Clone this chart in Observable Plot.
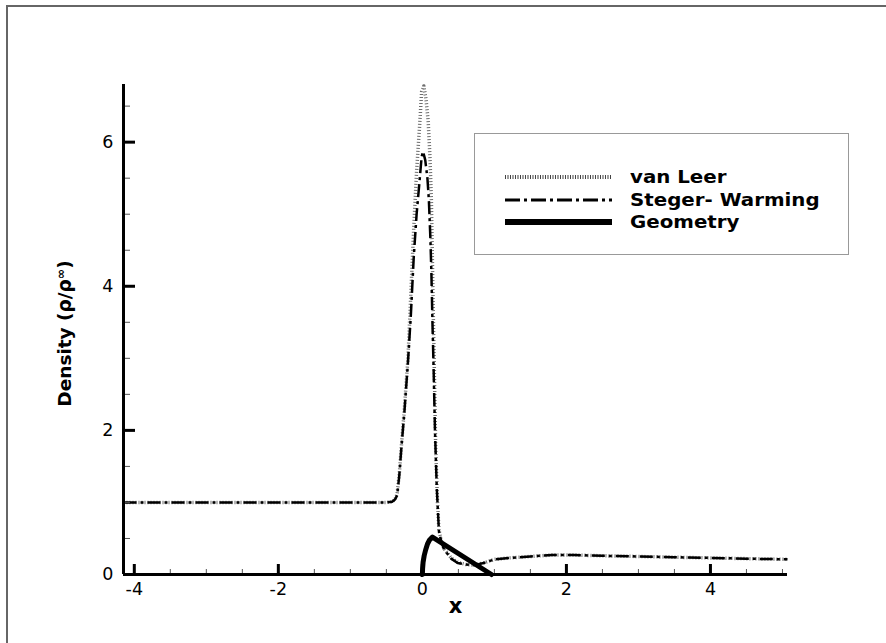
<!DOCTYPE html>
<html>
<head>
<meta charset="utf-8">
<script src="https://cdn.jsdelivr.net/npm/d3@7"></script>
<script src="https://cdn.jsdelivr.net/npm/@observablehq/plot@0.6"></script>
<style>
  html, body { margin: 0; padding: 0; background: #fff; overflow: hidden; }
  #page { position: relative; width: 886px; height: 643px; overflow: hidden; font-family: "DejaVu Sans", sans-serif; }
  #sheet { position: absolute; left: 6px; top: 5px; width: 1000px; height: 800px;
           border-left: 2.5px solid #666; border-top: 2.5px solid #666; pointer-events: none; }
  #chart { position: absolute; left: 0; top: 0; }
  #legend { position: absolute; left: 474px; top: 133px; width: 375px; height: 122px;
            border: 1.5px solid #999; background: #fff; box-sizing: border-box; }
  #legend .row { position: absolute; left: 30px; height: 22px; display: flex; align-items: center; }
  #legend .row span { font-weight: bold; font-size: 18px; color: #000; margin-left: 18px; line-height: 22px;
                      display: inline-block; transform: scaleX(1.1); transform-origin: left center; }
</style>
</head>
<body>
<div id="page">
  <div id="chart"></div>
  <div id="sheet"></div>
  <div id="legend"></div>
</div>
<script>
// Density along the stagnation line, two flux-splitting schemes plus the body outline
const vanLeerX = [-4.15, -3, -2, -1, -0.5, -0.42, -0.38, -0.35, -0.32, -0.29, -0.25, -0.2, -0.16, -0.12, -0.08, -0.04, -0.01, 0.02, 0.05, 0.08, 0.105, 0.125, 0.14, 0.155, 0.165, 0.185, 0.21, 0.23, 0.26, 0.3, 0.4, 0.49, 0.6, 0.72, 0.85, 1.0, 1.2, 1.5, 1.8, 2.1, 2.5, 3.0, 3.5, 4.0, 4.5, 5.07];
const vanLeerY = [1.0, 1.0, 1.0, 1.0, 1.0, 1.01, 1.04, 1.12, 1.4, 1.8, 2.3, 3.0, 3.9, 4.8, 5.6, 6.2, 6.7, 6.78, 6.6, 6.3, 5.8, 5.2, 4.3, 3.4, 2.9, 1.75, 1.0, 0.62, 0.48, 0.36, 0.23, 0.17, 0.14, 0.13, 0.16, 0.21, 0.23, 0.25, 0.27, 0.27, 0.26, 0.25, 0.24, 0.23, 0.22, 0.21];

const stegerX = [-4.15, -3, -2, -1, -0.5, -0.42, -0.38, -0.35, -0.32, -0.29, -0.25, -0.2, -0.16, -0.12, -0.08, -0.04, -0.01, 0.01, 0.04, 0.07, 0.09, 0.11, 0.125, 0.14, 0.155, 0.175, 0.2, 0.23, 0.26, 0.3, 0.4, 0.49, 0.6, 0.72, 0.85, 1.0, 1.2, 1.5, 1.8, 2.1, 2.5, 3.0, 3.5, 4.0, 4.5, 5.07];
const stegerY = [1.0, 1.0, 1.0, 1.0, 1.0, 1.01, 1.04, 1.1, 1.38, 1.78, 2.25, 2.95, 3.6, 4.4, 5.0, 5.45, 5.8, 5.87, 5.75, 5.5, 5.2, 4.7, 4.2, 3.5, 2.9, 2.0, 1.2, 0.6, 0.47, 0.35, 0.22, 0.16, 0.14, 0.13, 0.16, 0.21, 0.23, 0.25, 0.27, 0.27, 0.26, 0.25, 0.24, 0.23, 0.22, 0.21];

const geometryX = [0, 0.003, 0.01, 0.025, 0.045, 0.07, 0.1, 0.14, 0.96];
const geometryY = [0, 0.08, 0.17, 0.26, 0.34, 0.42, 0.48, 0.52, 0];

const xDomain = [-4.15, 5.07];
const yDomain = [0, 6.8];
const xTicksMajor = [-4, -2, 0, 2, 4];
const xTicksMinor = [-3.5, -3, -2.5, -1.5, -1, -0.5, 0.5, 1, 1.5, 2.5, 3, 3.5, 4.5, 5];
const yTicksMajor = [0, 2, 4, 6];
const yTicksMinor = [0.5, 1, 1.5, 2.5, 3, 3.5, 4.5, 5, 5.5, 6.5];

const seriesNames = ["van Leer", "Steger- Warming", "Geometry"];
const xLabel = "x";
const yLabel = "Density (ρ/ρ∞)";

const toRows = (xs, ys) => xs.map((x, i) => ({x, y: ys[i]}));
const vanLeer = toRows(vanLeerX, vanLeerY);
const steger = toRows(stegerX, stegerY);
const geometry = toRows(geometryX, geometryY);

const styles = {
  "van Leer": {stroke: "#6e6e6e", strokeWidth: 3.5, strokeDasharray: "1,2"},
  "Steger- Warming": {stroke: "#000", strokeWidth: 2.5, strokeDasharray: "13,4,3,4"},
  "Geometry": {stroke: "#000", strokeWidth: 5, strokeDasharray: "none"}
};
const legendStyles = {
  "van Leer": {stroke: "#444", width: 4, dash: "1,1.5"},
  "Steger- Warming": {stroke: "#000", width: 3, dash: "15,4,3,4"},
  "Geometry": {stroke: "#000", width: 6, dash: "none"}
};

const chart = Plot.plot({
  width: 886,
  height: 643,
  marginLeft: 123,
  marginRight: 99,
  marginTop: 84,
  marginBottom: 69,
  style: {fontFamily: "DejaVu Sans", background: "transparent", color: "#000"},
  x: {domain: xDomain},
  y: {domain: yDomain},
  marks: [
    // solutions
    Plot.line(vanLeer, {x: "x", y: "y", ...styles["van Leer"], strokeLinecap: "butt"}),
    Plot.line(steger, {x: "x", y: "y", ...styles["Steger- Warming"], strokeLinecap: "butt"}),
    // body outline
    Plot.line(geometry, {x: "x", y: "y", ...styles["Geometry"], strokeLinejoin: "round"}),
    // minor ticks pointing inward
    Plot.axisX(xTicksMinor, {tickSize: 5, dy: -5, tickFormat: () => "", label: null, stroke: "#555", strokeWidth: 1}),
    Plot.axisY(yTicksMinor, {tickSize: 7, dx: 7, tickFormat: () => "", label: null, stroke: "#555", strokeWidth: 1}),
    // major ticks pointing inward
    Plot.axisX(xTicksMajor, {tickSize: 10, dy: -10, tickFormat: () => "", label: null, strokeWidth: 3}),
    Plot.axisY(yTicksMajor, {tickSize: 12, dx: 12, tickFormat: () => "", label: null, strokeWidth: 3}),
    // tick labels
    Plot.axisX(xTicksMajor, {tickSize: 0, tickPadding: 8, tickFormat: d => String(d), label: null, fontSize: 17.5}),
    Plot.axisY(yTicksMajor, {tickSize: 0, tickPadding: 10, tickFormat: d => String(d), label: null, fontSize: 17.5}),
    // axis lines
    Plot.ruleY([yDomain[0]], {strokeWidth: 3}),
    Plot.ruleX([xDomain[0]], {strokeWidth: 3}),
    // axis titles
    Plot.text([xLabel], {text: d => d, frameAnchor: "bottom", dy: 38, fontSize: 21, fontWeight: "bold"}),
    Plot.text([yLabel], {text: d => d, frameAnchor: "left", textAnchor: "middle", rotate: -90, dx: -58, dy: 4, fontSize: 18.5, fontWeight: "bold", className: "ylabel"})
  ]
});
document.getElementById("chart").appendChild(chart);

// raise the ∞ in the y title
const ytext = chart.querySelector(".ylabel text");
if (ytext) {
  const full = ytext.textContent;
  const k = full.indexOf("∞");
  if (k >= 0) {
    ytext.textContent = "";
    const ns = "http://www.w3.org/2000/svg";
    const a = document.createElementNS(ns, "tspan"); a.textContent = full.slice(0, k);
    const b = document.createElementNS(ns, "tspan"); b.textContent = full[k];
    b.setAttribute("font-size", "12.5"); b.setAttribute("dy", "-6");
    const c = document.createElementNS(ns, "tspan"); c.textContent = full.slice(k + 1); c.setAttribute("dy", "6");
    ytext.append(a, b, c);
  }
}

// legend box
const legend = document.getElementById("legend");
const rowTops = [32, 55, 77];
seriesNames.forEach((name, i) => {
  const s = legendStyles[name];
  const row = document.createElement("div");
  row.className = "row";
  row.style.top = rowTops[i] + "px";
  const sw = d3.create("svg").attr("width", 107).attr("height", 12);
  sw.append("line").attr("x1", 0).attr("x2", 107).attr("y1", 6).attr("y2", 6)
    .attr("stroke", s.stroke)
    .attr("stroke-width", s.width)
    .attr("stroke-dasharray", s.dash);
  row.appendChild(sw.node());
  const label = document.createElement("span");
  label.textContent = name;
  row.appendChild(label);
  legend.appendChild(row);
});
</script>
</body>
</html>
